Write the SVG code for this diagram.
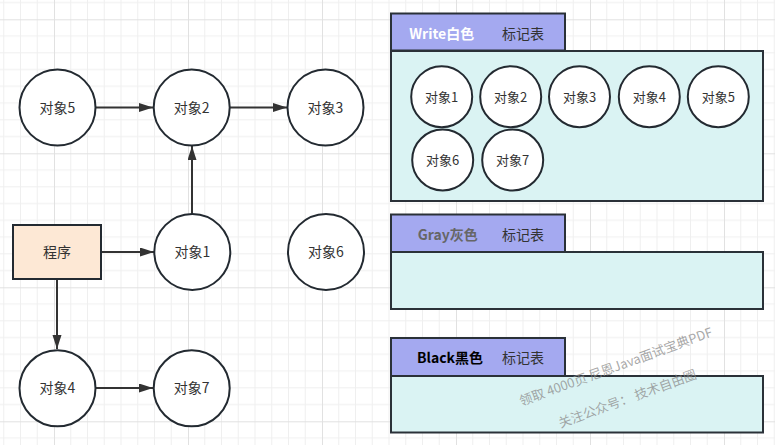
<svg xmlns="http://www.w3.org/2000/svg" width="775" height="445" viewBox="0 0 775 445">
<defs>
<pattern id="grid" patternUnits="userSpaceOnUse" x="54" y="19.3" width="134" height="134">
<path d="M16.75 0V134M33.5 0V134M50.25 0V134M67 0V134M83.75 0V134M100.5 0V134M117.25 0V134M0 16.75H134M0 33.5H134M0 50.25H134M0 67H134M0 83.75H134M0 100.5H134M0 117.25H134" stroke="#efefef" stroke-width="1" fill="none"/>
<path d="M0.5 0V134M0 0.5H134" stroke="#e1e1e1" stroke-width="1" fill="none"/>
</pattern>
<marker id="arr" markerUnits="userSpaceOnUse" markerWidth="15" markerHeight="10" refX="14" refY="4.5" orient="auto">
<path d="M0,0 L14,4.5 L0,9 Z" fill="#333333"/>
</marker>
<style>
.node{fill:#ffffff;stroke:#232a31;stroke-width:2}
.lbl{font-family:"Noto Sans CJK SC","Liberation Sans",sans-serif;font-size:14px;fill:#333333;text-anchor:middle}
.slbl{font-family:"Noto Sans CJK SC","Liberation Sans",sans-serif;font-size:13px;fill:#333333;text-anchor:middle}
.tab{fill:#a4a9f0;stroke:#2a3138;stroke-width:2}
.body{fill:#daf3f3;stroke:#2a3138;stroke-width:2}
.tt{font-family:"Noto Sans CJK SC","Liberation Sans",sans-serif;font-size:14px;font-weight:bold;text-anchor:middle}
.conn{stroke:#333333;stroke-width:2;fill:none;marker-end:url(#arr)}
.wm{font-family:"Noto Sans CJK SC","Liberation Sans",sans-serif;font-size:13px;fill:#8a8a8a;fill-opacity:0.75;text-anchor:middle}
</style>
</defs>
<rect width="775" height="445" fill="#ffffff"/>
<rect width="775" height="445" fill="url(#grid)"/>

<g id="connectors">
<path class="conn" d="M96 107.5H153"/>
<path class="conn" d="M230 107.5H287"/>
<path class="conn" d="M192 214V146"/>
<path class="conn" d="M101 252H154"/>
<path class="conn" d="M57 279V349"/>
<path class="conn" d="M96 388H153"/>
</g>

<g id="obj5"><circle class="node" cx="57.5" cy="107.5" r="38"/><text class="lbl" x="57.5" y="112.5">对象5</text></g>
<g id="obj2"><circle class="node" cx="191.7" cy="107.5" r="38"/><text class="lbl" x="191.7" y="112.5">对象2</text></g>
<g id="obj3"><circle class="node" cx="325.5" cy="107.5" r="38"/><text class="lbl" x="325.5" y="112.5">对象3</text></g>
<g id="prog"><rect x="13" y="225" width="88" height="54" fill="#fde8d5" stroke="#232a31" stroke-width="2"/><text class="lbl" x="57" y="257">程序</text></g>
<g id="obj1"><circle class="node" cx="192.3" cy="252" r="38"/><text class="lbl" x="192.3" y="257">对象1</text></g>
<g id="obj6"><circle class="node" cx="326" cy="252" r="38"/><text class="lbl" x="326" y="257">对象6</text></g>
<g id="obj4"><circle class="node" cx="57.5" cy="388.3" r="38"/><text class="lbl" x="57.5" y="393.3">对象4</text></g>
<g id="obj7"><circle class="node" cx="191.7" cy="388.3" r="38"/><text class="lbl" x="191.7" y="393.3">对象7</text></g>

<g id="white-table">
<rect class="body" x="391" y="51" width="372" height="150"/>
<rect class="tab" x="391" y="13.5" width="174" height="37"/>
<text class="tt" x="441.7" y="39" fill="#ffffff">Write白色</text>
<text class="lbl" x="523" y="39">标记表</text>
<g id="w1"><circle class="node" cx="441.7" cy="96.7" r="30.5"/><text class="slbl" x="441.7" y="101.5">对象1</text></g>
<g id="w2"><circle class="node" cx="510.7" cy="96.7" r="30.5"/><text class="slbl" x="510.7" y="101.5">对象2</text></g>
<g id="w3"><circle class="node" cx="579.5" cy="96.7" r="30.5"/><text class="slbl" x="579.5" y="101.5">对象3</text></g>
<g id="w4"><circle class="node" cx="649.3" cy="96.7" r="30.5"/><text class="slbl" x="649.3" y="101.5">对象4</text></g>
<g id="w5"><circle class="node" cx="718.3" cy="96.7" r="30.5"/><text class="slbl" x="718.3" y="101.5">对象5</text></g>
<g id="w6"><circle class="node" cx="442.7" cy="160" r="30.5"/><text class="slbl" x="442.7" y="164.8">对象6</text></g>
<g id="w7"><circle class="node" cx="512.7" cy="160" r="30.5"/><text class="slbl" x="512.7" y="164.8">对象7</text></g>
</g>

<g id="gray-table">
<rect class="body" x="391" y="252" width="372" height="57"/>
<rect class="tab" x="391" y="214.5" width="174" height="37.5"/>
<text class="tt" x="447.7" y="240" fill="#666666">Gray灰色</text>
<text class="lbl" x="523" y="240">标记表</text>
</g>

<g id="black-table">
<rect class="body" x="391" y="376" width="372" height="56.5"/>
<rect class="tab" x="391" y="338" width="174" height="38"/>
<text class="tt" x="450" y="363" fill="#000000">Black黑色</text>
<text class="lbl" x="523" y="363">标记表</text>
</g>

<g id="watermark">
<text class="wm" transform="translate(617.5 371) rotate(-20)">领取 4000页 尼恩Java面试宝典PDF</text>
<text class="wm" transform="translate(629 403) rotate(-20)">关注公众号： 技术自由圈</text>
</g>
</svg>
